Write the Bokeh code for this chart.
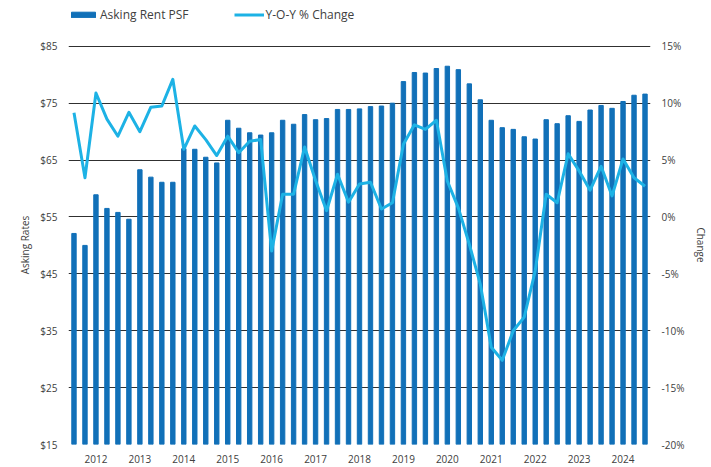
from bokeh.plotting import figure
from bokeh.models import (Range1d, LinearAxis, FixedTicker, PrintfTickFormatter,
                          ColumnDataSource, Legend, LegendItem)
from bokeh.embed import file_html
from bokeh.resources import INLINE

# ---- data ----
quarters = [f"{y} Q{q}" for y in range(2011, 2025) for q in range(1, 5)][2:55]
rent = [52.1, 50.0, 58.9, 56.5, 55.8, 54.6, 63.3, 62.0, 61.1, 61.1,
        67.0, 66.9, 65.5, 64.5, 72.0, 70.6, 69.8, 69.4, 69.8, 72.0,
        71.3, 73.0, 72.1, 72.3, 73.9, 73.9, 74.0, 74.4, 74.5, 75.0,
        78.8, 80.4, 80.3, 81.1, 81.5, 80.9, 78.4, 75.6, 72.0, 70.7,
        70.4, 69.1, 68.7, 72.1, 71.4, 72.8, 71.8, 73.8, 74.6, 74.1,
        75.3, 76.4, 76.6]
yoy = [9.15, 3.45, 10.9, 8.6, 7.1, 9.2, 7.5, 9.65, 9.75, 12.1,
       5.95, 8.0, 6.8, 5.4, 7.1, 5.65, 6.65, 6.8, -3.0, 2.0,
       2.0, 6.15, 3.2, 0.55, 3.75, 1.3, 2.9, 3.05, 0.7, 1.25,
       6.4, 8.1, 7.7, 8.5, 3.15, 0.8, -2.4, -5.9, -11.45, -12.6,
       -10.0, -8.8, -4.75, 2.0, 1.25, 5.55, 4.05, 2.35, 4.45, 1.85,
       5.1, 3.45, 2.7]
year_labels = [str(y) for y in range(2012, 2025)]
rent_ticks = list(range(15, 86, 10))
pct_ticks = list(range(-20, 16, 5))

BAR = "#1170B8"
LINE = "#1DB2E5"
TXT = "#404040"
FONT = "Open Sans"

# headroom above the top tick, so the legend can sit inside the frame
HEAD = 7.0
# padding that moves the axis titles back to the middle of the tick span
PAD = "\u00a0" * 15

x = list(range(len(quarters)))
src = ColumnDataSource(dict(x=x, q=quarters, rent=rent, yoy=yoy))

p = figure(width=711, height=467, output_backend="svg", toolbar_location=None,
           x_range=Range1d(-0.5, len(quarters) - 0.5),
           y_range=Range1d(rent_ticks[0], rent_ticks[-1] + HEAD),
           min_border_left=68, min_border_right=55, min_border_top=6,
           min_border_bottom=23)
p.extra_y_ranges = {"pct": Range1d(pct_ticks[0], pct_ticks[-1] + HEAD * 0.5)}
p.outline_line_color = None
p.background_fill_color = "white"
p.border_fill_color = "white"

bars = p.vbar(x="x", top="rent", bottom=rent_ticks[0], width=0.4, color=BAR, source=src)
ln = p.line(x="x", y="yoy", y_range_name="pct", line_color=LINE, line_width=3,
            line_join="round", source=src)

# grid
p.xgrid.visible = False
p.ygrid.ticker = FixedTicker(ticks=rent_ticks)
p.ygrid.grid_line_color = "#303030"
p.ygrid.grid_line_width = 1
p.ygrid.level = "underlay"

# x axis
xa = p.xaxis[0]
year_ticks = [quarters.index(f"{y} Q1") for y in year_labels]
xa.ticker = FixedTicker(ticks=year_ticks)
xa.major_label_overrides = {t: lab for t, lab in zip(year_ticks, year_labels)}
xa.axis_line_color = None
xa.major_tick_line_color = None
xa.minor_tick_line_color = None
xa.major_tick_in = 0
xa.major_tick_out = 0
xa.major_label_standoff = 10
xa.major_label_text_font = FONT
xa.major_label_text_font_size = "10px"
xa.major_label_text_color = TXT

# left axis
ya = p.yaxis[0]
ya.ticker = FixedTicker(ticks=rent_ticks)
ya.formatter = PrintfTickFormatter(format="$%d")
ya.axis_label = "Asking Rates" + PAD

ra = LinearAxis(y_range_name="pct", ticker=FixedTicker(ticks=pct_ticks),
                formatter=PrintfTickFormatter(format="%d%%"),
                axis_label=PAD + "Change")
p.add_layout(ra, "right")

for ax in (ya, ra):
    ax.axis_line_color = None
    ax.major_tick_line_color = None
    ax.minor_tick_line_color = None
    ax.major_tick_in = 0
    ax.major_tick_out = 0
    ax.major_label_standoff = 11
    ax.major_label_text_font = FONT
    ax.major_label_text_font_size = "10px"
    ax.major_label_text_color = TXT
    ax.axis_label_text_font = FONT
    ax.axis_label_text_font_size = "10px"
    ax.axis_label_text_font_style = "normal"
    ax.axis_label_text_color = TXT
ya.axis_label_standoff = 5
ra.axis_label_standoff = 7

legend = Legend(items=[LegendItem(label="Asking Rent PSF", renderers=[bars]),
                       LegendItem(label="Y-O-Y % Change", renderers=[ln])],
                orientation="horizontal", location=(0, 421),
                glyph_width=30, glyph_height=7, label_standoff=2, spacing=45,
                padding=0, margin=0, border_line_color=None,
                background_fill_alpha=0,
                label_text_font=FONT, label_text_font_size="12px",
                label_text_color=TXT, label_height=14)
p.add_layout(legend)

html = file_html(p, INLINE)
open("out.html", "w").write(html)
